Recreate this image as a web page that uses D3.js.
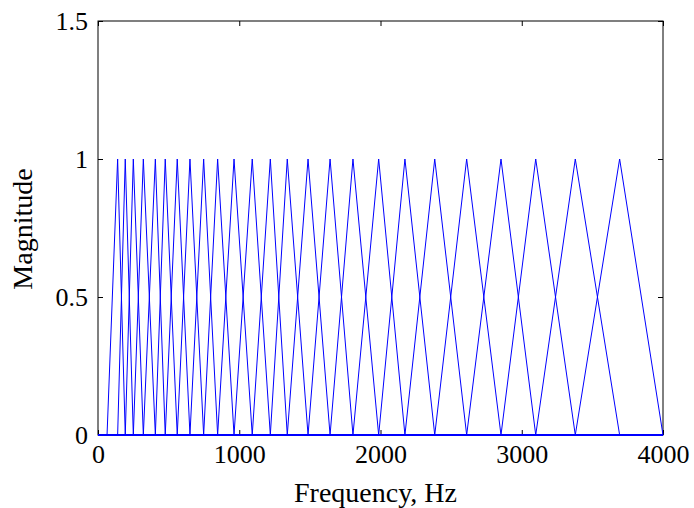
<!DOCTYPE html>
<html>
<head>
<meta charset="utf-8">
<script src="https://cdn.jsdelivr.net/npm/d3@7"></script>
<style>
  html, body { margin: 0; padding: 0; background: #fff; }
  svg { display: block; }
  text { font-family: "Liberation Serif", "Times New Roman", serif; fill: #000; }
</style>
</head>
<body>
<div id="chart"></div>
<script>
// Filter centre (peak) frequencies in Hz
const peakFreqs = [139, 193, 250, 321, 406, 476, 561, 651, 748, 847, 963, 1092, 1220,
                   1340, 1487, 1643, 1805, 1987, 2173, 2384, 2610, 2853, 3099, 3379, 3693];
// Lower edge of the first filter and upper edge of the last filter (Hz)
const edgeLow = 64;
const edgeHigh = 4000;
const xTicks = [0, 1000, 2000, 3000, 4000];
const yTicks = [0, 0.5, 1, 1.5];
const xDomain = [0, 4000];
const yDomain = [0, 1.5];
const xTitle = "Frequency, Hz";
const yTitle = "Magnitude";

const W = 694, H = 508;
const margin = { left: 98, right: 694 - 663, top: 21, bottom: 508 - 435 };
const iw = W - margin.left - margin.right;
const ih = H - margin.top - margin.bottom;

const svg = d3.select("#chart").append("svg").attr("width", W).attr("height", H);
const g = svg.append("g").attr("transform", `translate(${margin.left},${margin.top})`);

const x = d3.scaleLinear().domain(xDomain).range([0, iw]);
const y = d3.scaleLinear().domain(yDomain).range([ih, 0]);

// Build each triangular filter from the edge/peak frequencies
const edges = [edgeLow, ...peakFreqs, edgeHigh];
const filters = peakFreqs.map((p, i) => {
  const lo = edges[i], hi = edges[i + 2];
  const pts = [];
  if (lo > xDomain[0]) pts.push([xDomain[0], 0]);
  pts.push([lo, 0], [p, 1], [hi, 0]);
  if (hi < xDomain[1]) pts.push([xDomain[1], 0]);
  return pts;
});

// Axes: MATLAB style box with inward ticks on all sides
const tickLen = 5;
const fontSize = 26;
const axB = d3.axisBottom(x).tickValues(xTicks).tickSize(-tickLen).tickPadding(10).tickFormat(d3.format("d"));
const axT = d3.axisTop(x).tickValues(xTicks).tickSize(-tickLen).tickFormat("");
const axL = d3.axisLeft(y).tickValues(yTicks).tickSize(-tickLen).tickPadding(10).tickFormat(d => String(d));
const axR = d3.axisRight(y).tickValues(yTicks).tickSize(-tickLen).tickFormat("");

function style(sel) {
  sel.select(".domain").attr("stroke", "#000").attr("stroke-width", 1);
  sel.selectAll(".tick line").attr("stroke", "#000").attr("stroke-width", 1);
  sel.selectAll("text").attr("font-size", fontSize).attr("font-family", '"Liberation Serif", serif').attr("fill", "#000");
}
g.append("g").attr("transform", `translate(0,${ih})`).call(axB).call(style);
g.append("g").call(axT).call(style);
g.append("g").call(axL).call(style);
g.append("g").attr("transform", `translate(${iw},0)`).call(axR).call(style);
g.selectAll(".domain").attr("d", null);
g.append("rect").attr("x", 0).attr("y", 0).attr("width", iw).attr("height", ih)
  .attr("fill", "none").attr("stroke", "#000").attr("stroke-width", 1);

const line = d3.line().x(d => x(d[0])).y(d => y(d[1]));
g.append("g").selectAll("path").data(filters).join("path")
  .attr("d", line)
  .attr("fill", "none")
  .attr("stroke", "#0000ff")
  .attr("stroke-width", 1);

// Axis titles
svg.append("text")
  .attr("x", margin.left + iw / 2 - 5).attr("y", 502)
  .attr("text-anchor", "middle").attr("font-size", 28)
  .text(xTitle);
svg.append("text")
  .attr("transform", `translate(32,${margin.top + ih / 2 + 1}) rotate(-90)`)
  .attr("text-anchor", "middle").attr("font-size", 28)
  .text(yTitle);
</script>
</body>
</html>
